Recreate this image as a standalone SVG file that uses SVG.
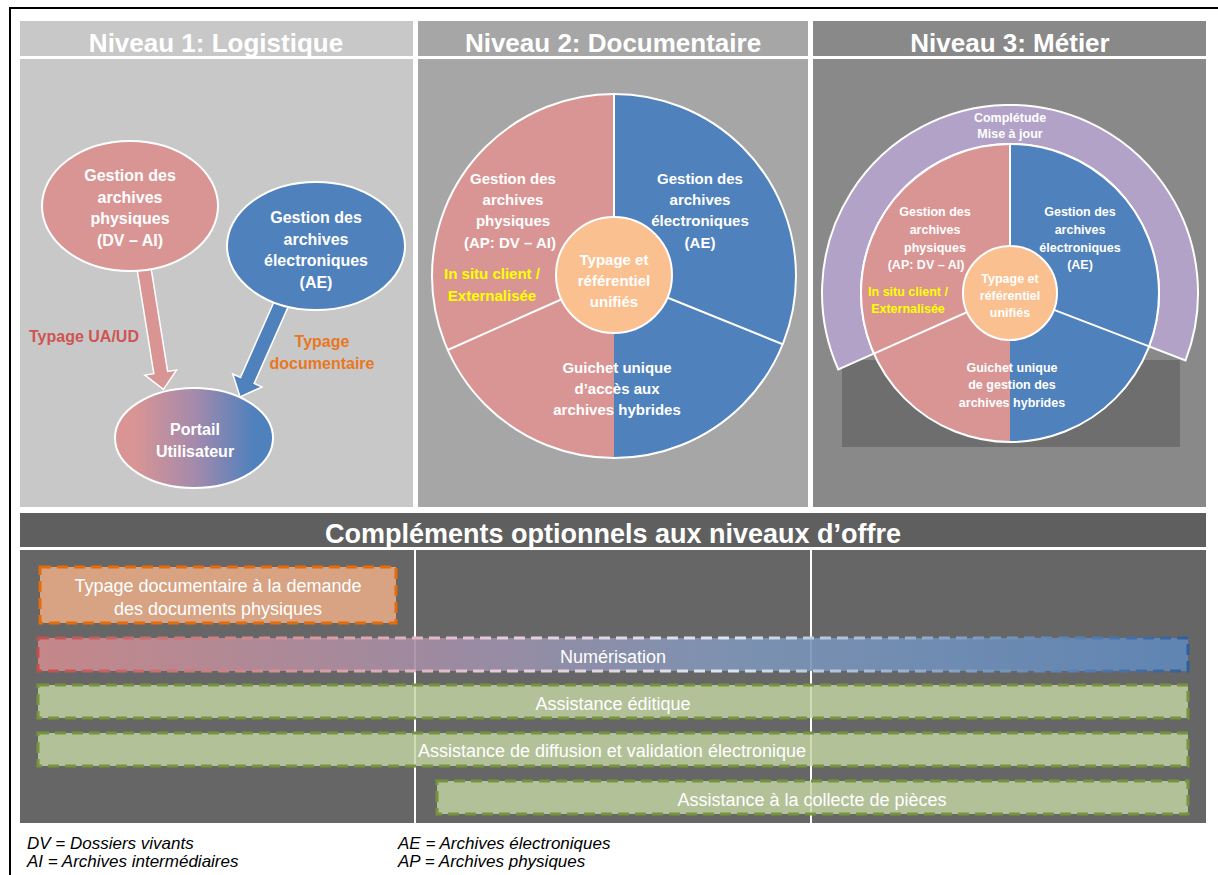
<svg xmlns="http://www.w3.org/2000/svg" width="1218" height="875" viewBox="0 0 1218 875">
<defs>
<style>
text{font-family:"Liberation Sans",Arial,sans-serif;fill:#fff;text-anchor:middle}
.hd{font-size:26px;font-weight:bold}
.b16{font-size:16px;font-weight:bold}
.b15{font-size:15px;font-weight:bold}
.b13{font-size:12.5px;font-weight:bold}
.bar{font-size:18px}
.lg{font-size:17px;font-style:italic;fill:#000;text-anchor:start}
.yl{fill:#ffff00}
.pk{fill:#d99594}
.bl{fill:#4f81bd}
.wl{stroke:#fff;stroke-width:2;fill:none}
.gbar{fill:#c4d6a5;fill-opacity:.82;stroke:#77933c;stroke-width:3;stroke-dasharray:11 6}
</style>
<linearGradient id="gPortail" x1="0" y1="0" x2="1" y2="0">
<stop offset="0.12" stop-color="#d99594"/>
<stop offset="0.5" stop-color="#a58aab"/>
<stop offset="0.88" stop-color="#4f81bd"/>
</linearGradient>
<linearGradient id="gNum" x1="0" y1="0" x2="1" y2="0">
<stop offset="0" stop-color="#cf8b8e"/>
<stop offset="0.35" stop-color="#a38ea7"/>
<stop offset="0.6" stop-color="#7f96b8"/>
<stop offset="1" stop-color="#5f88bb"/>
</linearGradient>
<linearGradient id="gNumS" x1="0" y1="0" x2="1" y2="0">
<stop offset="0" stop-color="#c0504d"/>
<stop offset="0.4" stop-color="#e6cbd8"/>
<stop offset="0.6" stop-color="#dbe4f0"/>
<stop offset="1" stop-color="#2f5f9a"/>
</linearGradient>
</defs>
<rect x="0" y="0" width="1218" height="875" fill="#fff"/>
<path d="M10,876 L10,8 L1218,8" fill="none" stroke="#000" stroke-width="2"/>

<!-- Panel backgrounds -->
<g id="panel1">
<rect x="20" y="21" width="393" height="35" fill="#c8c8c8"/>
<rect x="20" y="59" width="393" height="448" fill="#c8c8c8"/>
<text class="hd" x="216" y="52">Niveau 1: Logistique</text>
</g>
<g id="panel2">
<rect x="418" y="21" width="390" height="35" fill="#a6a6a6"/>
<rect x="418" y="59" width="390" height="448" fill="#a6a6a6"/>
<text class="hd" x="613" y="52">Niveau 2: Documentaire</text>
</g>
<g id="panel3">
<rect x="813" y="21" width="393" height="35" fill="#898989"/>
<rect x="813" y="59" width="393" height="448" fill="#898989"/>
<text class="hd" x="1010" y="52">Niveau 3: Métier</text>
<rect x="842" y="360" width="338" height="87" fill="#6e6e6e"/>
</g>

<!-- Panel 1 connectors -->
<g id="connectors">
<path transform="translate(143,262) rotate(-9.1)" d="M-7,0 L7,0 L7,112 L16,112 L0,129 L-16,112 L-7,112 Z" fill="#d99594" stroke="#fff" stroke-width="1.5"/>
<path transform="translate(283,300) rotate(23.9)" d="M-7.5,0 L7.5,0 L7.5,88 L16,88 L0,106 L-16,88 L-7.5,88 Z" fill="#4f81bd" stroke="#fff" stroke-width="1.5"/>
<text class="b16" x="84" y="342" style="fill:#cf5453">Typage UA/UD</text>
<text class="b16" x="322" y="347" style="fill:#e87722">Typage</text>
<text class="b16" x="322" y="369" style="fill:#e87722">documentaire</text>
</g>
<g id="node-physiques">
<ellipse cx="130" cy="206" rx="88" ry="65" class="pk" stroke="#fff" stroke-width="2"/>
<text class="b16" x="130" y="181">Gestion des</text>
<text class="b16" x="130" y="203">archives</text>
<text class="b16" x="130" y="224">physiques</text>
<text class="b16" x="130" y="246">(DV – AI)</text>
</g>
<g id="node-electroniques">
<ellipse cx="316" cy="246" rx="89" ry="64" class="bl" stroke="#fff" stroke-width="2"/>
<text class="b16" x="316" y="223">Gestion des</text>
<text class="b16" x="316" y="245">archives</text>
<text class="b16" x="316" y="266">électroniques</text>
<text class="b16" x="316" y="288">(AE)</text>
</g>
<g id="node-portail">
<ellipse cx="194" cy="438" rx="79" ry="50" fill="url(#gPortail)" stroke="#fff" stroke-width="2"/>
<text class="b16" x="195" y="435">Portail</text>
<text class="b16" x="195" y="457">Utilisateur</text>
</g>

<!-- Panel 2 pie -->
<g id="pie2">
<path d="M614,276 L614,94 A182,182 0 0 0 614,458 Z" class="pk"/>
<path d="M614,276 L614,94 A182,182 0 0 1 614,458 Z" class="bl"/>
<circle cx="614" cy="276" r="182" class="wl"/>
<path d="M614,276 L614,94 M614,276 L447.7,350 M614,276 L782.7,344.2" class="wl"/>
<circle cx="614" cy="275" r="58" fill="#fac090" stroke="#fff" stroke-width="2"/>
<text class="b15" x="513" y="184">Gestion des</text>
<text class="b15" x="513" y="205">archives</text>
<text class="b15" x="513" y="226">physiques</text>
<text class="b15" x="510" y="248">(AP: DV – AI)</text>
<text class="b15" x="700" y="184">Gestion des</text>
<text class="b15" x="700" y="205">archives</text>
<text class="b15" x="700" y="226">électroniques</text>
<text class="b15" x="700" y="248">(AE)</text>
<text class="b15 yl" x="492" y="279">In situ client /</text>
<text class="b15 yl" x="492" y="301">Externalisée</text>
<text class="b15" x="614" y="265">Typage et</text>
<text class="b15" x="614" y="286">référentiel</text>
<text class="b15" x="614" y="307">unifiés</text>
<text class="b15" x="617" y="373">Guichet unique</text>
<text class="b15" x="617" y="394">d’accès aux</text>
<text class="b15" x="617" y="415">archives hybrides</text>
</g>

<!-- Panel 3 pie -->
<g id="pie3">
<path d="M838.3,369.5 A188,188 0 1 1 1185.5,360.4 L1149.1,346.4 A149,149 0 1 0 873.9,353.6 Z" fill="#b3a2c7" stroke="#fff" stroke-width="2"/>
<path d="M1010,293 L1010,144 A149,149 0 0 0 1010,442 Z" class="pk"/>
<path d="M1010,293 L1010,144 A149,149 0 0 1 1010,442 Z" class="bl"/>
<circle cx="1010" cy="293" r="149" class="wl"/>
<path d="M1010,293 L1010,144 M1010,293 L873.9,353.6 M1010,293 L1149.1,346.4" class="wl"/>
<circle cx="1010" cy="293" r="47" fill="#fac090" stroke="#fff" stroke-width="2"/>
<text class="b13" x="1010" y="122">Complétude</text>
<text class="b13" x="1010" y="138">Mise à jour</text>
<text class="b13" x="935" y="216">Gestion des</text>
<text class="b13" x="935" y="234">archives</text>
<text class="b13" x="935" y="252">physiques</text>
<text class="b13" x="926" y="269">(AP: DV – AI)</text>
<text class="b13" x="1080" y="216">Gestion des</text>
<text class="b13" x="1080" y="234">archives</text>
<text class="b13" x="1080" y="252">électroniques</text>
<text class="b13" x="1080" y="269">(AE)</text>
<text class="b13 yl" x="908" y="296">In situ client /</text>
<text class="b13 yl" x="908" y="313">Externalisée</text>
<text class="b13" x="1010" y="283">Typage et</text>
<text class="b13" x="1010" y="300">référentiel</text>
<text class="b13" x="1010" y="317">unifiés</text>
<text class="b13" x="1012" y="372">Guichet unique</text>
<text class="b13" x="1012" y="389">de gestion des</text>
<text class="b13" x="1012" y="407">archives hybrides</text>
</g>

<!-- Bottom section -->
<g id="complements">
<rect x="20" y="513" width="1186" height="34" fill="#5f5f5f"/>
<text class="hd" x="613" y="543" style="font-size:27px">Compléments optionnels aux niveaux d’offre</text>
<rect x="20" y="550" width="1186" height="273" fill="#666"/>
<path d="M415,550 V823 M811,550 V823" stroke="#fff" stroke-width="2"/>
</g>
<g id="bar-typage">
<rect x="40" y="567" width="356" height="56" fill="#d7a382" stroke="#e46c0a" stroke-width="3" stroke-dasharray="11 6"/>
<text class="bar" x="218" y="592">Typage documentaire à la demande</text>
<text class="bar" x="218" y="615">des documents physiques</text>
</g>
<g id="bar-numerisation">
<rect x="38" y="638" width="1150" height="33" fill="url(#gNum)" fill-opacity=".9" stroke="url(#gNumS)" stroke-width="3" stroke-dasharray="11 6"/>
<text class="bar" x="613" y="663">Numérisation</text>
</g>
<g id="bar-editique">
<rect x="38" y="685" width="1150" height="33" class="gbar"/>
<text class="bar" x="613" y="710">Assistance éditique</text>
</g>
<g id="bar-diffusion">
<rect x="38" y="733" width="1150" height="33" class="gbar"/>
<text class="bar" x="612" y="757">Assistance de diffusion et validation électronique</text>
</g>
<g id="bar-collecte">
<rect x="437" y="781" width="751" height="33" class="gbar"/>
<text class="bar" x="812" y="806">Assistance à la collecte de pièces</text>
</g>

<g id="legend">
<text class="lg" x="27" y="849">DV = Dossiers vivants</text>
<text class="lg" x="27" y="867">AI = Archives intermédiaires</text>
<text class="lg" x="398" y="849">AE = Archives électroniques</text>
<text class="lg" x="398" y="867">AP = Archives physiques</text>
</g>
</svg>
